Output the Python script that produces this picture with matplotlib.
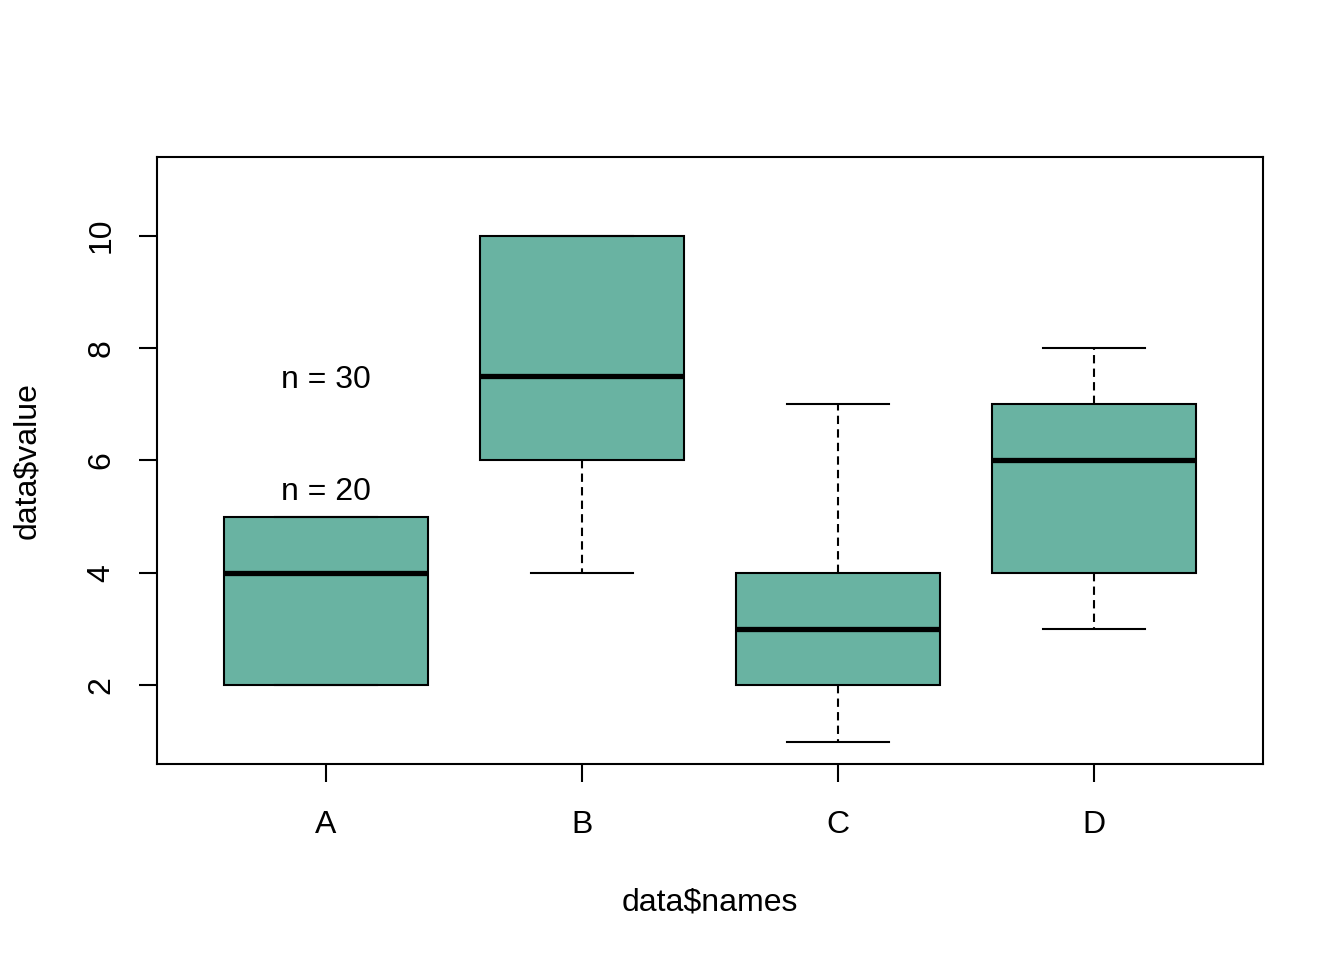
import matplotlib
matplotlib.use("Agg")
import matplotlib.pyplot as plt

categories = ["A", "B", "C", "D"]
q1 = [2, 6, 2, 4]
med = [4, 7.5, 3, 6]
q3 = [5, 10, 4, 7]
whislo = [2, 4, 1, 3]
whishi = [5, 10, 7, 8]
annot_labels = ["n = 30", "n = 20"]
annot_y = [7.5, 5.5]
yticks = [2, 4, 6, 8, 10]

plt.rcParams['font.family'] = ['Liberation Sans', 'DejaVu Sans']

fig = plt.figure(figsize=(13.44, 9.6), dpi=100)
ax = fig.add_axes([157/1344, 1-764/960, (1263-157)/1344, (764-157)/960])

stats = []
for i, c in enumerate(categories):
    stats.append(dict(label=c, q1=q1[i], med=med[i], q3=q3[i],
                      whislo=whislo[i], whishi=whishi[i], fliers=[]))

ax.bxp(stats, positions=[1, 2, 3, 4], widths=0.8, capwidths=0.4,
       patch_artist=True, showfliers=False,
       boxprops=dict(facecolor="#69b3a2", edgecolor="black", linewidth=1.5),
       medianprops=dict(color="black", linewidth=3.8, solid_capstyle="butt"),
       whiskerprops=dict(color="black", linewidth=1.5, linestyle=(0, (4, 2.5))),
       capprops=dict(color="black", linewidth=1.5))

for lab, yv in zip(annot_labels, annot_y):
    ax.annotate(lab, xy=(1, yv), xytext=(0, -8.2), textcoords="offset points",
                ha="center", va="baseline", fontsize=23)

ax.set_xlim(0.34, 4.66)
ax.set_ylim(0.6, 11.4)
ax.set_xticks([1, 2, 3, 4])
ax.set_xticklabels(categories)
ax.set_yticks(yticks)
ax.set_yticklabels([str(v) for v in yticks], rotation=90, va="center")
ax.tick_params(axis="both", labelsize=23, length=13, width=1.5, direction="out")
ax.tick_params(axis="x", pad=20)
ax.tick_params(axis="y", pad=16)
for s in ax.spines.values():
    s.set_linewidth(1.5)

ax.set_xlabel("data$names", fontsize=23, labelpad=34)
ax.set_ylabel("data$value", fontsize=23, labelpad=32)

fig.savefig("out.png", dpi=100)
